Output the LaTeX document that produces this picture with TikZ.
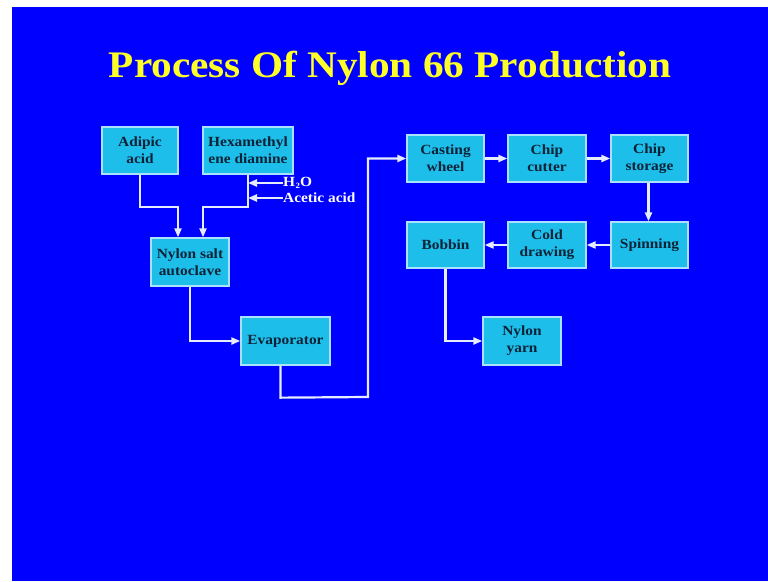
\documentclass[tikz,border=0pt]{standalone}
\usepackage{fontspec}
\setmainfont{Liberation Serif}
\newfontfamily\widefont[FakeStretch=1.1]{Liberation Serif}
\usetikzlibrary{arrows.meta,calc}
\definecolor{bgblue}{RGB}{0,0,255}
\definecolor{boxfill}{RGB}{30,190,235}
\definecolor{boxline}{RGB}{170,225,255}
\definecolor{boxtext}{RGB}{12,35,55}
\definecolor{flowcol}{RGB}{230,236,255}
\definecolor{titlecol}{RGB}{255,255,40}
\tikzset{
  procbox/.style={draw=boxline, line width=1.3pt, fill=boxfill, text=boxtext,
    font=\widefont\fontsize{14}{17}\selectfont\bfseries, align=center, inner sep=0pt,
    minimum width=77pt, minimum height=47pt},
  flow/.style={draw=flowcol, line width=2.2pt,
    -{Triangle[length=9pt,width=7pt,fill=flowcol]}},
  feedlabel/.style={text=white, font=\widefont\fontsize{14}{15}\selectfont\bfseries,
    inner sep=0pt, anchor=west}
}
\begin{document}
\begin{tikzpicture}[x=1pt,y=-1pt]
\useasboundingbox (0,0) rectangle (768,581);
\fill[white] (0,0) rectangle (768,581);
\fill[bgblue] (12,7) rectangle (768,581);
\node[text=titlecol, font=\widefont\fontsize{37.5}{40}\selectfont\bfseries, inner sep=0pt, anchor=base] (title) at (390,77) {Process Of Nylon 66 Production};
\node[procbox, minimum width=76pt] (adipic) at (140,150.5) {Adipic\\acid};
\node[procbox, minimum width=90pt] (hexa) at (248,150.5) {Hexamethyl\\ene diamine};
\node[procbox, minimum width=78pt, minimum height=48pt] (salt) at (190,262) {Nylon salt\\autoclave};
\node[procbox, minimum width=89pt, minimum height=48pt] (evap) at (285.5,341) {Evaporator};
\node[procbox] (cast) at (445.5,158.5) {Casting\\wheel};
\node[procbox, minimum width=78pt] (cutter) at (547,158.5) {Chip\\cutter};
\node[procbox] (storage) at (649.5,158.5) {Chip\\storage};
\node[procbox, minimum height=46pt] (bobbin) at (445.5,245) {Bobbin};
\node[procbox, minimum width=78pt, minimum height=46pt] (cold) at (547,245) {Cold\\drawing};
\node[procbox, minimum height=46pt] (spin) at (649.5,245) {Spinning};
\node[procbox, minimum width=78pt, minimum height=48pt] (yarn) at (522,341) {Nylon\\yarn};
\node[feedlabel] (h2o) at (283,183) {H\kern0.5pt{\fontsize{8}{8}\selectfont\raisebox{-2pt}{2}}O};
\node[feedlabel] (acetic) at (283,198) {Acetic acid};
% connectors
\coordinate (j1) at ($(adipic.south)+(0,32)$);
\draw[flow] (adipic.south) -- (j1) -| ($(salt.north)+(-12,0)$);
\coordinate (j2) at ($(hexa.south)+(0,32)$);
\draw[flow] (hexa.south) -- (j2) -| ($(salt.north)+(13,0)$);
\draw[flow] (h2o.west) -- (h2o.west -| hexa.south);
\draw[flow] (acetic.west) -- (acetic.west -| hexa.south);
\draw[flow] (salt.south) |- (evap.west);
\coordinate (e1) at ($(evap.south)+(-5,32)$);
\coordinate (e2) at (368,397);
\draw[flow] ($(evap.south)+(-5,0)$) -- (e1) -- (e2) |- (cast.west);
\draw[flow] (cast.east) -- (cutter.west);
\draw[flow] (cutter.east) -- (storage.west);
\draw[flow] ($(storage.south)+(-1,0)$) -- ($(spin.north)+(-1,0)$);
\draw[flow] (spin.west) -- (cold.east);
\draw[flow] (cold.west) -- (bobbin.east);
\draw[flow] (bobbin.south) |- (yarn.west);
\end{tikzpicture}
\end{document}
